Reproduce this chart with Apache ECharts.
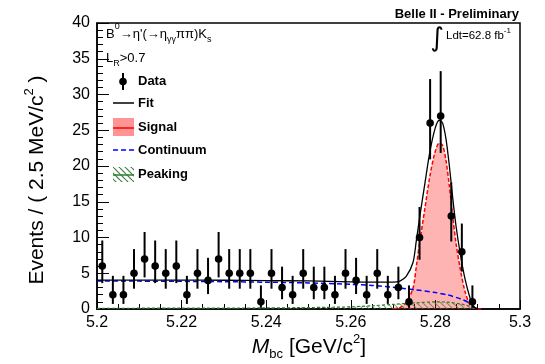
<!DOCTYPE html>
<html><head><meta charset="utf-8">
<script src="https://cdn.jsdelivr.net/npm/echarts@6/dist/echarts.min.js"></script>
<style>html,body{margin:0;padding:0;background:#fff}#c{width:545px;height:364px}</style>
</head><body><div id="c"></div>
<script>
// ---- data ----
const binCenters = [5.20125,5.20375,5.20625,5.20875,5.21125,5.21375,5.21625,5.21875,5.22125,5.22375,
  5.22625,5.22875,5.23125,5.23375,5.23625,5.23875,5.24125,5.24375,5.24625,5.24875,
  5.25125,5.25375,5.25625,5.25875,5.26125,5.26375,5.26625,5.26875,5.27125,5.27375,
  5.27625,5.27875,5.28125,5.28375,5.28625,5.28875,5.29125,5.29375,5.29625,5.29875];
const counts = [6,2,2,5,7,6,5,6,2,5,4,7,5,5,5,1,5,3,2,5,3,3,2,5,4,2,5,2,3,1,10,26,27,13,8,1,0,0,0,0];
const errLow = [2.38,1.29,1.29,2.16,2.58,2.38,2.16,2.38,1.29,2.16,1.91,2.58,2.16,2.16,2.16,0.83,2.16,1.63,1.29,2.16,
  1.63,1.63,1.29,2.16,1.91,1.29,2.16,1.29,1.63,0.83,3.11,5.07,5.17,3.56,2.77,0.83,0,0,0,0];
const errHigh = [3.58,2.64,2.64,3.38,3.77,3.58,3.38,3.58,2.64,3.38,3.16,3.77,3.38,3.38,3.38,2.30,3.38,2.92,2.64,3.38,
  2.92,2.92,2.64,3.38,3.16,2.64,3.38,2.64,2.92,2.30,4.27,6.16,6.27,4.70,3.95,2.30,1.84,1.84,1.84,1.84];

const fitMass = [5.200,5.210,5.220,5.230,5.240,5.250,5.260,5.265,5.270,5.2716,5.2731,5.2747,5.2755,5.2763,5.2775,5.2787,5.2799,5.2809,5.2817,5.2825,5.2833,5.2841,5.2849,5.2858,5.2870,5.2882,5.2890,5.2900];
const fitVals = [4.05,4.05,4.04,4.02,3.98,3.92,3.80,3.76,3.76,3.90,4.55,6.5,9.6,12.9,17.5,22.0,25.2,26.4,26.0,23.8,20.0,15.5,11.5,8.0,4.2,1.5,0.35,0.05];

const sigMass = [5.2700,5.2716,5.2731,5.2747,5.2755,5.2763,5.2775,5.2787,5.2799,5.2809,5.2817,5.2825,5.2833,5.2841,5.2849,5.2858,5.2870,5.2882,5.2890,5.2900,5.2910];
const sigVals = [0.05,0.2,0.9,2.9,6.0,9.4,14.0,18.6,21.9,23.2,22.9,20.8,17.2,12.9,9.1,5.85,2.45,0.5,0.15,0.05,0];

const contMass = [5.200,5.210,5.220,5.230,5.240,5.250,5.260,5.265,5.270,5.275,5.280,5.283,5.286,5.288,5.289,5.2895];
const contVals = [3.92,3.90,3.87,3.82,3.75,3.65,3.45,3.30,3.05,2.70,2.30,1.95,1.40,0.85,0.40,0];

const peakMass = [5.200,5.220,5.240,5.250,5.260,5.265,5.270,5.275,5.280,5.283,5.286,5.288,5.289,5.2895];
const peakVals = [0.10,0.12,0.15,0.20,0.30,0.45,0.65,0.85,1.00,0.95,0.70,0.40,0.10,0];

const xTicks = {min:5.2, max:5.3, step:0.02};
const yTicks = {min:0, max:40, step:5};

// ---- style helpers ----
const FONT = 'Liberation Sans, Arial, sans-serif';
const pc = document.createElement('canvas'); pc.width = 6; pc.height = 6;
const g = pc.getContext('2d'); g.strokeStyle = '#3d7f3d'; g.lineWidth = 1.2;
g.beginPath(); for (const k of [-6,0,6]) { g.moveTo(k,0); g.lineTo(k+6,6); } g.stroke();
const hatch = {image: pc, repeat: 'repeat'};

const pairs = (xs, ys) => xs.map((x,i)=>[x, ys[i]]);
const dataPts = binCenters.map((x,i)=>[x, counts[i], errLow[i], errHigh[i]]).filter(d=>d[1]>0);

const chart = echarts.init(document.getElementById('c'), null, {renderer:'canvas'});
const txt = (o) => Object.assign({type:'text', silent:true}, o);
const option = {
  animation:false,
  grid:{left:97,right:25,top:23,bottom:55,show:true,borderColor:'#000',borderWidth:1.5,backgroundColor:'transparent'},
  xAxis:{type:'value',min:xTicks.min,max:xTicks.max,interval:xTicks.step,
    axisLine:{onZero:false,lineStyle:{color:'#000',width:1.5}},
    axisTick:{inside:true,length:9,lineStyle:{color:'#000',width:1}},
    minorTick:{show:true,splitNumber:4,length:5,lineStyle:{color:'#000',width:1}},
    splitLine:{show:false},
    axisLabel:{color:'#000',fontSize:16,fontFamily:FONT,margin:6,showMinLabel:true,showMaxLabel:true,
      formatter:v=>String(+v.toFixed(2))}},
  yAxis:{type:'value',min:yTicks.min,max:yTicks.max,interval:yTicks.step,
    axisLine:{onZero:false,lineStyle:{color:'#000',width:1.5}},
    axisTick:{inside:true,length:12,lineStyle:{color:'#000',width:1}},
    minorTick:{show:true,splitNumber:5,length:6,lineStyle:{color:'#000',width:1}},
    splitLine:{show:false},
    axisLabel:{color:'#000',fontSize:16,fontFamily:FONT,margin:7}},
  series:[
    {name:'Signal',type:'line',data:pairs(sigMass,sigVals),showSymbol:false,smooth:0.3,z:1,
      lineStyle:{color:'#ff0000',width:1.5,type:[4,2]},areaStyle:{color:'rgba(255,0,0,0.42)',origin:'start'}},
    {name:'Peaking',type:'line',data:pairs(peakMass,peakVals),showSymbol:false,smooth:0.3,z:2,
      lineStyle:{color:'#2e7d2e',width:1.2,type:[3,2]},areaStyle:{color:hatch,origin:'start'}},
    {name:'Continuum',type:'line',data:pairs(contMass,contVals),showSymbol:false,smooth:0.3,z:3,
      lineStyle:{color:'#0000ff',width:1.5,type:[5,3]}},
    {name:'Fit',type:'line',data:pairs(fitMass,fitVals),showSymbol:false,smooth:0.3,z:4,
      lineStyle:{color:'#000',width:1.3}},
    {name:'Data',type:'custom',z:5,data:dataPts,
      renderItem:(params,api)=>{
        const x=api.value(0), y=api.value(1), lo=api.value(2), hi=api.value(3);
        const p=api.coord([x,y]), pl=api.coord([x,y-lo]), ph=api.coord([x,y+hi]);
        return {type:'group',children:[
          {type:'line',shape:{x1:p[0],y1:pl[1],x2:p[0],y2:ph[1]},style:{stroke:'#000',lineWidth:2}},
          {type:'circle',shape:{cx:p[0],cy:p[1],r:3.8},style:{fill:'#000'}}
        ]};
      }}
  ],
  graphic:[
    // header texts
    txt({x:519,y:14,style:{text:'Belle II - Preliminary',fill:'#000',font:'bold 13px '+FONT,align:'right',textAlign:'right',verticalAlign:'middle',textVerticalAlign:'middle'}}),
    txt({x:106,y:34,style:{text:"{n|B}{sup|0}{n|→η'(→η}{sub|γγ}{n|ππ)K}{sub|s}",fill:'#000',verticalAlign:'middle',textVerticalAlign:'middle',
      rich:{n:{fontSize:13,fontFamily:FONT,lineHeight:20,verticalAlign:'middle'},sup:{fontSize:9,fontFamily:FONT,lineHeight:20,verticalAlign:'top',padding:[-2,0,0,0]},sub:{fontSize:9,fontFamily:FONT,lineHeight:20,verticalAlign:'bottom'}}}}),
    txt({x:106,y:58,style:{text:'{n|L}{sub|R}{n|>0.7}',fill:'#000',verticalAlign:'middle',textVerticalAlign:'middle',
      rich:{n:{fontSize:13,fontFamily:FONT,lineHeight:20,verticalAlign:'middle'},sub:{fontSize:9,fontFamily:FONT,lineHeight:20,verticalAlign:'bottom'}}}}),
    txt({x:437,y:39,style:{text:'∫',fill:'#000',font:'26px DejaVu Sans',align:'center',textAlign:'center',verticalAlign:'middle',textVerticalAlign:'middle'}}),
    txt({x:446,y:36,style:{text:'{n|Ldt=62.8 fb}{sup|-1}',fill:'#000',verticalAlign:'middle',textVerticalAlign:'middle',
      rich:{n:{fontSize:11.5,fontFamily:FONT,lineHeight:18,verticalAlign:'middle'},sup:{fontSize:8,fontFamily:FONT,lineHeight:18,verticalAlign:'top'}}}}),
    // legend
    {type:'line',silent:true,shape:{x1:123,y1:73,x2:123,y2:90},style:{stroke:'#000',lineWidth:2}},
    {type:'circle',silent:true,shape:{cx:123,cy:81.5,r:3.8},style:{fill:'#000'}},
    txt({x:138,y:81,style:{text:'Data',fill:'#000',font:'bold 13px '+FONT,verticalAlign:'middle',textVerticalAlign:'middle'}}),
    {type:'line',silent:true,shape:{x1:113,y1:103,x2:134,y2:103},style:{stroke:'#000',lineWidth:1.5}},
    txt({x:138,y:103,style:{text:'Fit',fill:'#000',font:'bold 13px '+FONT,verticalAlign:'middle',textVerticalAlign:'middle'}}),
    {type:'rect',silent:true,shape:{x:113,y:118,width:21,height:18},style:{fill:'rgba(255,0,0,0.42)'}},
    {type:'line',silent:true,shape:{x1:113,y1:128,x2:134,y2:128},style:{stroke:'#ff0000',lineWidth:1.5}},
    txt({x:138,y:127,style:{text:'Signal',fill:'#000',font:'bold 13px '+FONT,verticalAlign:'middle',textVerticalAlign:'middle'}}),
    {type:'line',silent:true,shape:{x1:113,y1:150,x2:134,y2:150},style:{stroke:'#0000ff',lineWidth:1.5,lineDash:[5,3]}},
    txt({x:138,y:150,style:{text:'Continuum',fill:'#000',font:'bold 13px '+FONT,verticalAlign:'middle',textVerticalAlign:'middle'}}),
    {type:'rect',silent:true,shape:{x:113,y:167,width:21,height:15},style:{fill:hatch}},
    {type:'line',silent:true,shape:{x1:113,y1:175,x2:134,y2:175},style:{stroke:'#2e7d2e',lineWidth:1.5}},
    txt({x:138,y:174,style:{text:'Peaking',fill:'#000',font:'bold 13px '+FONT,verticalAlign:'middle',textVerticalAlign:'middle'}}),
    // axis titles
    txt({x:37,y:180,rotation:Math.PI/2,style:{text:'{t|Events / ( 2.5 MeV/c}{sup|2}{t| )}',fill:'#000',align:'center',textAlign:'center',verticalAlign:'middle',textVerticalAlign:'middle',
      rich:{t:{fontSize:21,fontFamily:FONT,lineHeight:28,verticalAlign:'middle'},sup:{fontSize:13,fontFamily:FONT,lineHeight:28,verticalAlign:'top'}}}}),
    txt({x:309,y:347,style:{text:'{i|M}{sub|bc}{t| [GeV/c}{sup|2}{t|]}',fill:'#000',align:'center',textAlign:'center',verticalAlign:'middle',textVerticalAlign:'middle',
      rich:{i:{fontSize:21,fontFamily:FONT,fontStyle:'italic',lineHeight:28,verticalAlign:'middle'},t:{fontSize:21,fontFamily:FONT,lineHeight:28,verticalAlign:'middle'},
        sub:{fontSize:13,fontFamily:FONT,lineHeight:28,verticalAlign:'bottom'},sup:{fontSize:13,fontFamily:FONT,lineHeight:28,verticalAlign:'top'}}}})
  ]
};
chart.setOption(option);
</script></body></html>
